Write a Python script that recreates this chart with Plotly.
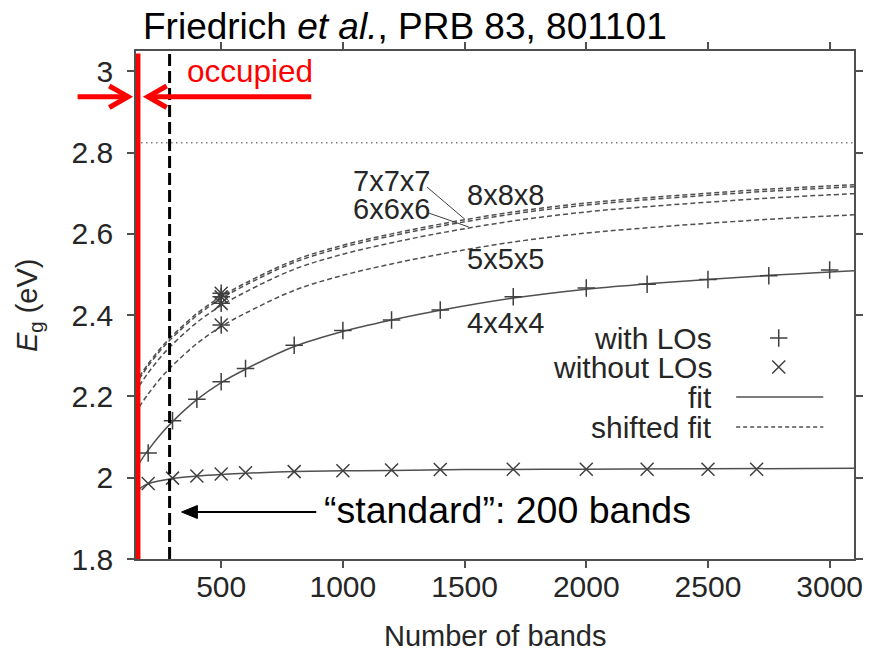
import plotly.graph_objects as go

# ---------------- data ----------------
bands_lo = [200, 300, 400, 500, 600, 800, 1000, 1200, 1400, 1700, 2000, 2250, 2500, 2750, 3000]
eg_lo = [2.061, 2.140, 2.193, 2.236, 2.269, 2.326, 2.362, 2.388, 2.413, 2.445, 2.467, 2.476, 2.488, 2.497, 2.511]

bands_nolo = [200, 300, 400, 500, 600, 800, 1000, 1200, 1400, 1700, 2000, 2250, 2500, 2700]
eg_nolo = [1.986, 1.999, 2.004, 2.009, 2.012, 2.015, 2.017, 2.019, 2.020, 2.021, 2.021, 2.021, 2.021, 2.021]

fit_bands = [163, 200, 250, 300, 400, 500, 600, 800, 1000, 1200, 1400, 1700, 2000, 2250, 2500, 2750, 3000, 3100]
fit_4x4x4 = [2.036, 2.068, 2.106, 2.138, 2.192, 2.234, 2.267, 2.323, 2.360, 2.388, 2.412, 2.442, 2.464, 2.477, 2.488, 2.498, 2.506, 2.509]
fit_5x5x5 = [2.174, 2.206, 2.244, 2.276, 2.330, 2.372, 2.405, 2.461, 2.498, 2.526, 2.550, 2.580, 2.602, 2.615, 2.626, 2.636, 2.644, 2.647]
fit_6x6x6 = [2.226, 2.258, 2.296, 2.328, 2.382, 2.424, 2.457, 2.513, 2.550, 2.578, 2.602, 2.632, 2.654, 2.667, 2.678, 2.688, 2.696, 2.699]
fit_7x7x7 = [2.243, 2.275, 2.313, 2.345, 2.399, 2.441, 2.474, 2.530, 2.567, 2.595, 2.619, 2.649, 2.671, 2.684, 2.695, 2.705, 2.713, 2.716]
fit_8x8x8 = [2.248, 2.280, 2.318, 2.350, 2.404, 2.446, 2.479, 2.535, 2.572, 2.600, 2.624, 2.654, 2.676, 2.689, 2.700, 2.710, 2.718, 2.721]

fit_nolo_bands = [162, 200, 300, 400, 500, 600, 800, 1000, 1200, 1500, 2000, 2500, 3100]
fit_nolo = [1.972, 1.985, 1.998, 2.004, 2.008, 2.011, 2.015, 2.017, 2.018, 2.020, 2.021, 2.022, 2.023]

kpt_bands = [500, 500, 500, 500]
eg_kpt = [2.376, 2.429, 2.445, 2.454]

occupied_bands = 158
standard_bands = 288
eg_converged = 2.824

x_ticks = [500, 1000, 1500, 2000, 2500, 3000]
y_ticks = [1.8, 2.0, 2.2, 2.4, 2.6, 2.8, 3.0]
y_ticktext = ["1.8", "2", "2.2", "2.4", "2.6", "2.8", "3"]

# ---------------- geometry helpers ----------------
L, R, T, B = 136, 861, 51, 559
def PX(x):
    return (x - L) / (R - L)
def PY(y):
    return (B - y) / (B - T)

FONT = "Liberation Sans, Arial, sans-serif"
GRAY = "#505050"
TXT = "#262626"

fig = go.Figure()

dash_fit = "5px,3px"
for ys in [fit_5x5x5, fit_6x6x6, fit_7x7x7, fit_8x8x8]:
    fig.add_trace(go.Scatter(x=fit_bands, y=ys, mode="lines", line=dict(color=GRAY, width=1.5, dash=dash_fit, shape="spline"),
                             showlegend=False, hoverinfo="skip"))
fig.add_trace(go.Scatter(x=fit_bands, y=fit_4x4x4, mode="lines", line=dict(color=GRAY, width=1.5, shape="spline"),
                         showlegend=False, hoverinfo="skip"))
fig.add_trace(go.Scatter(x=fit_nolo_bands, y=fit_nolo, mode="lines", line=dict(color=GRAY, width=1.5, shape="spline"),
                         showlegend=False, hoverinfo="skip"))

plus_marker = dict(symbol="cross-thin", size=12.5, line=dict(width=1.5, color="#404040"))
x_marker = dict(symbol="x-thin", size=13, line=dict(width=1.5, color="#404040"))
fig.add_trace(go.Scatter(x=bands_lo, y=eg_lo, mode="markers", marker=plus_marker, showlegend=False))
fig.add_trace(go.Scatter(x=bands_nolo, y=eg_nolo, mode="markers", marker=x_marker, showlegend=False))
fig.add_trace(go.Scatter(x=kpt_bands, y=eg_kpt, mode="markers", marker=plus_marker, showlegend=False))
fig.add_trace(go.Scatter(x=kpt_bands, y=eg_kpt, mode="markers", marker=x_marker, showlegend=False))

# legend samples on a hidden pixel-coordinate overlay
LGX = 7
fig.add_trace(go.Scatter(x=[778 + LGX], y=[338], xaxis="x2", yaxis="y2", mode="markers", marker=plus_marker, showlegend=False))
fig.add_trace(go.Scatter(x=[778 + LGX], y=[367], xaxis="x2", yaxis="y2", mode="markers", marker=x_marker, showlegend=False))
fig.add_trace(go.Scatter(x=[735 + LGX, 823 + LGX], y=[397, 397], xaxis="x2", yaxis="y2", mode="lines",
                         line=dict(color=GRAY, width=1.5), showlegend=False))
fig.add_trace(go.Scatter(x=[735 + LGX, 823 + LGX], y=[427, 427], xaxis="x2", yaxis="y2", mode="lines",
                         line=dict(color=GRAY, width=1.5, dash="4px,3px"), showlegend=False))

shapes = []
# dotted converged line
shapes.append(dict(type="line", xref="paper", x0=0, x1=1, yref="y", y0=eg_converged, y1=eg_converged,
                   line=dict(color="#808080", width=1.5, dash="1.5px,3.5px")))
# standard dashed vertical
shapes.append(dict(type="line", xref="x", x0=standard_bands, x1=standard_bands, yref="paper", y0=0, y1=1,
                   line=dict(color="black", width=3, dash="12px,5px")))
# occupied red vertical
shapes.append(dict(type="line", xref="x", x0=occupied_bands, x1=occupied_bands, yref="paper", y0=0, y1=0.995,
                   line=dict(color="#ff0000", width=5)))
# red arrows (outside/at top-left)
ya = 96.7
shapes.append(dict(type="line", xref="paper", yref="paper", x0=PX(77), x1=PX(126), y0=PY(ya), y1=PY(ya),
                   line=dict(color="#ff0000", width=5)))
shapes.append(dict(type="path", xref="paper", yref="paper",
                   path=f"M{PX(109)},{PY(86)} L{PX(128)},{PY(ya)} L{PX(109)},{PY(107.5)}",
                   line=dict(color="#ff0000", width=5)))
shapes.append(dict(type="line", xref="paper", yref="paper", x0=PX(150), x1=PX(313), y0=PY(ya), y1=PY(ya),
                   line=dict(color="#ff0000", width=5)))
shapes.append(dict(type="path", xref="paper", yref="paper",
                   path=f"M{PX(167)},{PY(86)} L{PX(148)},{PY(ya)} L{PX(167)},{PY(107.5)}",
                   line=dict(color="#ff0000", width=5)))
# black arrow to the standard line
yb = 512
shapes.append(dict(type="line", xref="paper", yref="paper", x0=PX(195), x1=PX(318), y0=PY(yb), y1=PY(yb),
                   line=dict(color="black", width=2)))
shapes.append(dict(type="path", xref="paper", yref="paper",
                   path=f"M{PX(182)},{PY(yb)} L{PX(198)},{PY(yb-6.5)} L{PX(198)},{PY(yb+6.5)} Z",
                   fillcolor="black", line=dict(color="black", width=1)))
# leader lines for labels
shapes.append(dict(type="line", xref="x", yref="y", x0=1346, y0=2.715, x1=1501, y1=2.636,
                   line=dict(color="#404040", width=1)))
shapes.append(dict(type="line", xref="x", yref="y", x0=1354, y0=2.651, x1=1517, y1=2.617,
                   line=dict(color="#404040", width=1)))

ann = []
def label(text, x, y, xanchor="left", size=30, color=TXT, xref="x", yref="y", **kw):
    ann.append(dict(text=text, x=x, y=y, xref=xref, yref=yref, xanchor=xanchor, yanchor="middle",
                    showarrow=False, font=dict(family=FONT, size=size, color=color), **kw))

label("7x7x7", 1366, 2.729, xanchor="right", size=29)
label("6x6x6", 1366, 2.662, xanchor="right", size=29)
label("8x8x8", 1501, 2.695, size=29)
label("5x5x5", 1501, 2.538, size=29)
label("4x4x4", 1501, 2.381, size=29)

label("with LOs", 713 + LGX, 338, xanchor="right", xref="x2", yref="y2", size=30)
label("without LOs", 713 + LGX, 367, xanchor="right", xref="x2", yref="y2", size=30)
label("fit", 713 + LGX, 397, xanchor="right", xref="x2", yref="y2", size=30)
label("shifted fit", 713 + LGX, 427, xanchor="right", xref="x2", yref="y2", size=30)

label("Friedrich <i>et al.</i>, PRB 83, 801101", PX(141), PY(26), size=37, color="black", xref="paper", yref="paper")
label("occupied", PX(185), PY(71), size=31.5, color="#ff0000", xref="paper", yref="paper")
label("\u201cstandard\u201d: 200 bands", PX(324), PY(510), size=37.5, color="black", xref="paper", yref="paper")

label("Number of bands", PX(498), PY(636), xanchor="center", size=29, xref="paper", yref="paper")
label("<i>E</i><sub>g</sub> (eV)", PX(28), PY(306), xanchor="center", size=29, xref="paper", yref="paper", textangle=-90)

axis_common = dict(showgrid=False, zeroline=False, ticks="outside", ticklen=7, tickwidth=1.5, tickcolor=GRAY,
                   showline=True, linecolor=GRAY, linewidth=1.5, mirror="ticks",
                   tickfont=dict(family=FONT, size=30, color=TXT))

fig.update_layout(
    width=875, height=653,
    margin=dict(l=L, r=875 - R, t=T, b=653 - B),
    paper_bgcolor="white", plot_bgcolor="white",
    showlegend=False,
    xaxis=dict(range=[150, 3100], tickvals=x_ticks, ticklabelstandoff=-7, **axis_common),
    yaxis=dict(range=[1.8, 3.05], tickvals=y_ticks, ticktext=y_ticktext, ticklabelstandoff=8, **axis_common),
    xaxis2=dict(range=[L, R], overlaying="x", visible=False),
    yaxis2=dict(range=[B, T], overlaying="y", visible=False),
    shapes=shapes,
    annotations=ann,
)

fig.write_html("out.html", config={"displayModeBar": False},
               post_script="document.body.style.margin='0';document.body.style.overflow='hidden';")
